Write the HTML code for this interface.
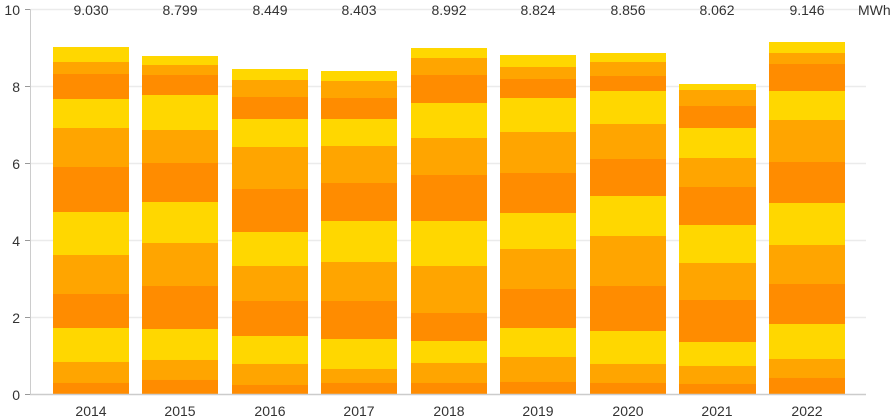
<!DOCTYPE html>
<html><head><meta charset="utf-8"><style>
html,body{margin:0;padding:0;background:#fff;}
svg{display:block;font-family:"Liberation Sans",sans-serif;}
.a{fill:#FFD700}.b{fill:#FFA500}.c{fill:#FF8C00}
</style></head><body>
<svg width="896" height="419" viewBox="0 0 896 419">
<g stroke="#ebebeb" stroke-width="1.5">
<line x1="31" y1="9.5" x2="866" y2="9.5"/>
<line x1="31" y1="86.5" x2="866" y2="86.5"/>
<line x1="31" y1="163.5" x2="866" y2="163.5"/>
<line x1="31" y1="240.5" x2="866" y2="240.5"/>
<line x1="31" y1="317.5" x2="866" y2="317.5"/>
</g>
<g transform="translate(0,30) scale(1,0.33333)">
<g transform="translate(53,0)">
<rect class="a" y="51" width="76" height="46"/><rect class="b" y="96" width="76" height="37"/><rect class="c" y="132" width="76" height="76"/><rect class="a" y="207" width="76" height="88"/><rect class="b" y="294" width="76" height="118"/><rect class="c" y="411" width="76" height="136"/><rect class="a" y="546" width="76" height="130"/><rect class="b" y="675" width="76" height="118"/><rect class="c" y="792" width="76" height="103"/><rect class="a" y="894" width="76" height="103"/><rect class="b" y="996" width="76" height="64"/><rect class="c" y="1059" width="76" height="33"/>
</g>
<g transform="translate(142,0)">
<rect class="a" y="78" width="76" height="28"/><rect class="b" y="105" width="76" height="31"/><rect class="c" y="135" width="76" height="61"/><rect class="a" y="195" width="76" height="106"/><rect class="b" y="300" width="76" height="100"/><rect class="c" y="399" width="76" height="118"/><rect class="a" y="516" width="76" height="124"/><rect class="b" y="639" width="76" height="130"/><rect class="c" y="768" width="76" height="130"/><rect class="a" y="897" width="76" height="94"/><rect class="b" y="990" width="76" height="61"/><rect class="c" y="1050" width="76" height="42"/>
</g>
<g transform="translate(232,0)">
<rect class="a" y="117" width="76" height="34"/><rect class="b" y="150" width="76" height="52"/><rect class="c" y="201" width="76" height="67"/><rect class="a" y="267" width="76" height="85"/><rect class="b" y="351" width="76" height="127"/><rect class="c" y="477" width="76" height="130"/><rect class="a" y="606" width="76" height="103"/><rect class="b" y="708" width="76" height="106"/><rect class="c" y="813" width="76" height="106"/><rect class="a" y="918" width="76" height="85"/><rect class="b" y="1002" width="76" height="64"/><rect class="c" y="1065" width="76" height="27"/>
</g>
<g transform="translate(321,0)">
<rect class="a" y="123" width="76" height="31"/><rect class="b" y="153" width="76" height="52"/><rect class="c" y="204" width="76" height="64"/><rect class="a" y="267" width="76" height="82"/><rect class="b" y="348" width="76" height="112"/><rect class="c" y="459" width="76" height="115"/><rect class="a" y="573" width="76" height="124"/><rect class="b" y="696" width="76" height="118"/><rect class="c" y="813" width="76" height="115"/><rect class="a" y="927" width="76" height="91"/><rect class="b" y="1017" width="76" height="43"/><rect class="c" y="1059" width="76" height="33"/>
</g>
<g transform="translate(411,0)">
<rect class="a" y="54" width="76" height="31"/><rect class="b" y="84" width="76" height="52"/><rect class="c" y="135" width="76" height="85"/><rect class="a" y="219" width="76" height="106"/><rect class="b" y="324" width="76" height="112"/><rect class="c" y="435" width="76" height="139"/><rect class="a" y="573" width="76" height="136"/><rect class="b" y="708" width="76" height="142"/><rect class="c" y="849" width="76" height="85"/><rect class="a" y="933" width="76" height="67"/><rect class="b" y="999" width="76" height="61"/><rect class="c" y="1059" width="76" height="33"/>
</g>
<g transform="translate(500,0)">
<rect class="a" y="75" width="76" height="37"/><rect class="b" y="111" width="76" height="37"/><rect class="c" y="147" width="76" height="58"/><rect class="a" y="204" width="76" height="103"/><rect class="b" y="306" width="76" height="124"/><rect class="c" y="429" width="76" height="121"/><rect class="a" y="549" width="76" height="109"/><rect class="b" y="657" width="76" height="121"/><rect class="c" y="777" width="76" height="118"/><rect class="a" y="894" width="76" height="88"/><rect class="b" y="981" width="76" height="76"/><rect class="c" y="1056" width="76" height="36"/>
</g>
<g transform="translate(590,0)">
<rect class="a" y="69" width="76" height="28"/><rect class="b" y="96" width="76" height="43"/><rect class="c" y="138" width="76" height="46"/><rect class="a" y="183" width="76" height="100"/><rect class="b" y="282" width="76" height="106"/><rect class="c" y="387" width="76" height="112"/><rect class="a" y="498" width="76" height="121"/><rect class="b" y="618" width="76" height="151"/><rect class="c" y="768" width="76" height="136"/><rect class="a" y="903" width="76" height="100"/><rect class="b" y="1002" width="76" height="58"/><rect class="c" y="1059" width="76" height="33"/>
</g>
<g transform="translate(679,0)">
<rect class="a" y="162" width="77" height="19"/><rect class="b" y="180" width="77" height="49"/><rect class="c" y="228" width="77" height="67"/><rect class="a" y="294" width="77" height="91"/><rect class="b" y="384" width="77" height="88"/><rect class="c" y="471" width="77" height="115"/><rect class="a" y="585" width="77" height="115"/><rect class="b" y="699" width="77" height="112"/><rect class="c" y="810" width="77" height="127"/><rect class="a" y="936" width="77" height="73"/><rect class="b" y="1008" width="77" height="55"/><rect class="c" y="1062" width="77" height="30"/>
</g>
<g transform="translate(769,0)">
<rect class="a" y="36" width="76" height="34"/><rect class="b" y="69" width="76" height="34"/><rect class="c" y="102" width="76" height="82"/><rect class="a" y="183" width="76" height="88"/><rect class="b" y="270" width="76" height="127"/><rect class="c" y="396" width="76" height="124"/><rect class="a" y="519" width="76" height="127"/><rect class="b" y="645" width="76" height="118"/><rect class="c" y="762" width="76" height="121"/><rect class="a" y="882" width="76" height="106"/><rect class="b" y="987" width="76" height="58"/><rect class="c" y="1044" width="76" height="48"/>
</g>
</g>
<line x1="30.5" y1="9" x2="30.5" y2="394" stroke="#ccc"/>
<line x1="30" y1="394.5" x2="866" y2="394.5" stroke="#ccc" stroke-width="1.5"/>
<g stroke="#999"><line x1="25" y1="9.5" x2="30" y2="9.5"/><line x1="25" y1="86.5" x2="30" y2="86.5"/><line x1="25" y1="163.5" x2="30" y2="163.5"/><line x1="25" y1="240.5" x2="30" y2="240.5"/><line x1="25" y1="317.5" x2="30" y2="317.5"/><line x1="25" y1="394.5" x2="30" y2="394.5"/></g>
<g font-size="14" fill="#333" text-anchor="end">
<text x="20" y="15">10</text><text x="20" y="92">8</text><text x="20" y="169">6</text><text x="20" y="246">4</text><text x="20" y="323">2</text><text x="20" y="400">0</text>
</g>
<g font-size="14" fill="#333" text-anchor="middle">
<text x="91" y="15">9.030</text><text x="180" y="15">8.799</text><text x="270" y="15">8.449</text><text x="359" y="15">8.403</text><text x="449" y="15">8.992</text><text x="538" y="15">8.824</text><text x="628" y="15">8.856</text><text x="717" y="15">8.062</text><text x="807" y="15">9.146</text>
<text x="91" y="416">2014</text><text x="180" y="416">2015</text><text x="270" y="416">2016</text><text x="359" y="416">2017</text><text x="449" y="416">2018</text><text x="538" y="416">2019</text><text x="628" y="416">2020</text><text x="717" y="416">2021</text><text x="807" y="416">2022</text>
</g>
<text x="858" y="15" font-size="14" fill="#333">MWh</text>
</svg>
</body></html>
